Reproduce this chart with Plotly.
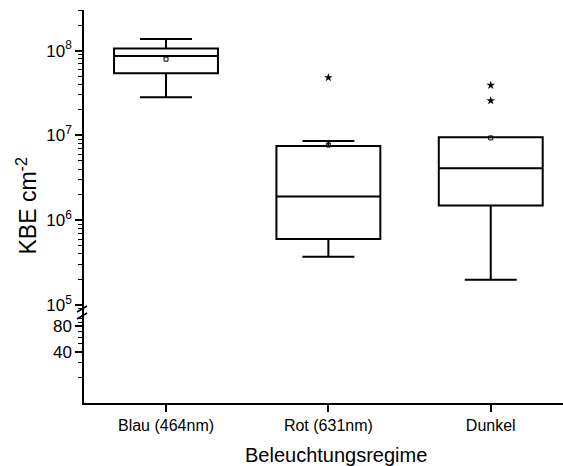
import plotly.graph_objects as go

# ---- data ----
categories = ["Blau (464nm)", "Rot (631nm)", "Dunkel"]
q1_vals = [5.41e7, 6.01e5, 1.49e6]
median_vals = [8.66e7, 1.90e6, 4.10e6]
q3_vals = [1.056e8, 7.52e6, 9.53e6]
lower_whisker = [2.82e7, 3.72e5, 1.98e5]
upper_whisker = [1.375e8, 8.61e6, 9.53e6]
mean_vals = [7.93e7, 7.70e6, 9.35e6]
outlier_cats = ["Rot (631nm)", "Dunkel", "Dunkel"]
outlier_vals = [4.81e7, 3.91e7, 2.57e7]

upper_tickvals = [1e5, 1e6, 1e7, 1e8]
upper_ticktext = ["10<sup>5</sup>", "10<sup>6</sup>", "10<sup>7</sup>", "10<sup>8</sup>"]
upper_minor = [k * 10 ** e for e in range(4, 9) for k in range(2, 10)]
lower_tickvals = [40, 80]
lower_ticktext = ["40", "80"]
lower_minor = [20, 30, 50, 60, 70, 90, 100]

x_title = "Beleuchtungsregime"
y_title = "KBE cm<sup>-2</sup>"

FONT = "Liberation Sans, Arial, sans-serif"

fig = go.Figure()
fig.add_trace(go.Box(
    x=categories, q1=q1_vals, median=median_vals, q3=q3_vals,
    lowerfence=lower_whisker, upperfence=upper_whisker,
    width=0.64, whiskerwidth=0.5, boxpoints=False,
    line=dict(color="black", width=2), fillcolor="rgba(255,255,255,0)",
    showlegend=False, xaxis="x", yaxis="y", hoverinfo="skip",
))
fig.add_trace(go.Scatter(
    x=categories, y=mean_vals, mode="markers",
    marker=dict(symbol="square-open", size=4, color="black", line=dict(width=1, color="black")),
    showlegend=False, xaxis="x", yaxis="y",
))
fig.add_trace(go.Scatter(
    x=outlier_cats, y=outlier_vals, mode="markers",
    marker=dict(symbol="star", size=6.5, color="black"),
    showlegend=False, xaxis="x", yaxis="y",
))
# empty trace so the lower (broken) axis segment is drawn
fig.add_trace(go.Scatter(
    x=[categories[0]], y=[None], mode="markers", showlegend=False,
    xaxis="x", yaxis="y2", hoverinfo="skip",
))

W, H = 563, 466
ml, mr, mt, mb = 84, 0, 10, 63
ph = H - mt - mb  # 393
pw = W - ml - mr
px_per_dec = 84.8
break_frac = 90 / ph

fig.update_layout(
    width=W, height=H,
    margin=dict(l=ml, r=mr, t=mt, b=mb),
    paper_bgcolor="white", plot_bgcolor="white",
    font=dict(family=FONT, size=16, color="black"),
    xaxis=dict(
        type="category", range=[-0.505, 2.445], anchor="y2",
        categoryorder="array", categoryarray=categories,
        showline=True, linecolor="black", linewidth=1.5,
        ticks="outside", ticklen=7, tickwidth=1.5, tickcolor="black",
        showgrid=False, zeroline=False, tickfont=dict(size=16),
    ),
    yaxis=dict(
        type="log", domain=[break_frac, 1],
        range=[8.479 - (ph - 90) / px_per_dec, 8.479],
        anchor="x", showline=True, linecolor="black", linewidth=1.5,
        tickvals=upper_tickvals, ticktext=upper_ticktext,
        ticks="outside", ticklen=7, tickwidth=1.5, tickcolor="black",
        minor=dict(tickvals=upper_minor, ticks="outside", ticklen=4, tickwidth=1, tickcolor="black", showgrid=False),
        showgrid=False, zeroline=False, tickfont=dict(size=17),
    ),
    yaxis2=dict(
        type="log", domain=[0, break_frac],
        range=[1, 1 + 90 / px_per_dec],
        anchor="x", showline=True, linecolor="black", linewidth=1.5,
        tickvals=lower_tickvals, ticktext=lower_ticktext,
        ticks="outside", ticklen=7, tickwidth=1.5, tickcolor="black",
        minor=dict(tickvals=lower_minor, ticks="outside", ticklen=4, tickwidth=1, tickcolor="black", showgrid=False),
        showgrid=False, zeroline=False, tickfont=dict(size=17),
    ),
    annotations=[
        dict(text=x_title, xref="paper", yref="paper", x=(336 - ml) / pw, y=-(455 - 403) / ph,
             xanchor="center", yanchor="middle", showarrow=False, font=dict(size=20)),
        dict(text=y_title, xref="paper", yref="paper", x=(26 - ml) / pw, y=0.5,
             xanchor="center", yanchor="middle", textangle=-90, showarrow=False, font=dict(size=23)),
    ],
    shapes=[
        dict(type="line", xref="paper", yref="paper", xsizemode="pixel", ysizemode="pixel",
             xanchor=0, yanchor=break_frac, x0=-7, x1=3, y0=1, y1=7,
             line=dict(color="black", width=1.5)),
        dict(type="line", xref="paper", yref="paper", xsizemode="pixel", ysizemode="pixel",
             xanchor=0, yanchor=break_frac, x0=-7, x1=3, y0=-6, y1=0,
             line=dict(color="black", width=1.5)),
    ],
)

fig.write_html(
    "out.html",
    config={"displayModeBar": False},
    post_script="document.body.style.margin='0';document.body.style.overflow='hidden';",
)
